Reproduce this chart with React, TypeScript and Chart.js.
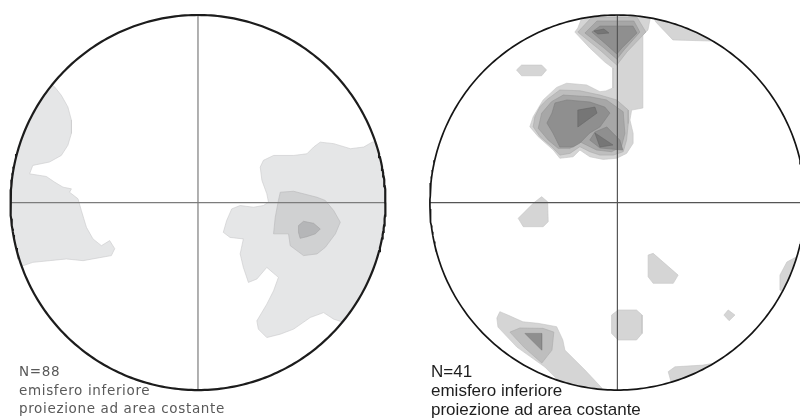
import React, { useEffect, useRef } from "react";
import { Chart, registerables } from "chart.js";

type P = [number, number];

// Coordinates of contour vertices are in "percent of net radius" (u east, v north)
// Net layout: each net is centred at x = NET_CENTERS[i] (chart units), y = 0
const NET_CENTERS = [0, 223.7];
const X_RANGE: P = [-105.6, 321.1];
const Y_RANGE: P = [-114.9, 108];

// ---------- Left net (N=88) ----------
const A_WEST_L1: P[] = [[-80,64],[-76.5,61.7],[-72.9,57.2],[-69.4,51.0],[-67.5,43.9],[-67.5,36.9],[-69.4,30.5],[-72.9,25.1],[-79.2,21.6],[-88.1,19.8],[-89.8,15.3],[-80.9,13.9],[-76.5,10.9],[-72.0,8.2],[-67.5,7.3],[-68.5,5.5],[-64.0,2.0],[-62.2,-4.3],[-59.5,-13.2],[-56.0,-19.4],[-51.5,-23.0],[-47.1,-20.3],[-44.4,-24.6],[-46.2,-28.3],[-52.4,-29.4],[-61.3,-31.0],[-70.2,-30.1],[-79.2,-31.0],[-88.1,-31.9],[-97.9,-35.3],[-110,-40],[-110,64]];
const A_EAST_L1: P[] = [[105,35],[92.9,32.2],[88.4,29.6],[81.3,28.7],[72.4,31.4],[65.2,32.2],[61.7,29.6],[58.1,26.0],[51.0,25.1],[40.3,25.1],[34.9,22.5],[33.2,18.9],[34.1,11.8],[36.7,4.7],[37.6,0.2],[34.9,-1.6],[29.6,-2.5],[22.5,-1.6],[18.0,-3.4],[15.3,-9.6],[13.5,-15.9],[17.1,-18.6],[24.2,-19.4],[22.5,-27.4],[24.2,-34.6],[26.9,-42.6],[31.4,-40.8],[36.7,-34.6],[42.9,-39.9],[40.3,-47.1],[36.7,-54.2],[31.4,-63.1],[32.2,-67.5],[36.7,-72.0],[43.9,-70.2],[51.0,-67.5],[59.9,-61.3],[67.0,-58.7],[72.4,-62.2],[78.6,-64.2],[110,-64],[110,35]];
const A_EAST_L2: P[] = [[43.9,5.5],[51.0,6.0],[63.5,2.8],[67.9,1.1],[72.4,-4.3],[75.9,-10.5],[73.3,-16.7],[67.9,-23.9],[63.5,-27.4],[56.3,-28.3],[49.2,-23.0],[48.3,-16.7],[40.3,-16.7],[41.2,-7.9],[42.9,1.1]];
const A_EAST_L3: P[] = [[53.6,-12.3],[56.3,-10.0],[61.7,-11.1],[65.2,-14.1],[62.6,-16.7],[58.1,-18.2],[54.5,-19.1],[53.6,-15.9]];

// ---------- Right net (N=41) ----------
const B_MAIN_L1: P[] = [[-17.3,102.7],[-21.1,93.1],[-22.7,90.9],[-14.7,82.4],[-6.7,74.9],[-2.4,71.7],[-2.4,61.1],[-6.1,59.5],[-9.3,59.1],[-16.4,62.7],[-27.1,63.6],[-32.4,61.4],[-39.6,54.7],[-44.9,45.8],[-46.7,40.4],[-42.2,35.1],[-34.2,28.0],[-30.7,23.6],[-23.6,24.4],[-20.0,28.0],[-14.7,24.4],[-7.6,23.0],[-0.4,23.6],[4.9,26.2],[8.4,31.6],[8.4,36.9],[6.7,44.0],[7.6,49.3],[13.6,50.4],[13.6,89.3],[16.3,92.0],[18.4,102.7]];
const B_WEDGE_L1: P[] = [[17.3,102.7],[20.5,96.3],[29.6,86.7],[50.4,86.1],[57.3,92.0],[44.0,105.3]];
const B_TOP_L2: P[] = [[-21.1,90.9],[-13.6,98.9],[10.4,98.9],[15.2,90.9],[5.1,80.3],[-0.3,73.3],[-9.3,81.3]];
const B_TOP_L3: P[] = [[-17.3,90.4],[-10.9,96.8],[8.8,96.8],[12.0,90.9],[3.5,81.3],[-0.3,76.5],[-7.7,82.9]];
const B_TOP_L4: P[] = [[-13.6,90.9],[-9.3,94.1],[8.3,94.1],[10.4,90.4],[2.4,82.4],[-0.3,79.2],[-5.6,84.0]];
const B_TOP_L5: P[] = [[-12.5,91.5],[-7.2,92.5],[-4.5,90.4],[-10.4,89.9]];
const B_MID_L2: P[] = [[-37.8,54.7],[-30.7,60.0],[-20.0,59.6],[-9.3,57.3],[-0.4,54.7],[5.8,49.3],[5.8,42.2],[4.9,33.3],[3.1,27.1],[-2.2,25.3],[-9.3,25.3],[-14.7,27.1],[-20.0,29.8],[-25.3,26.2],[-30.7,25.3],[-35.1,29.8],[-41.3,35.1],[-44.9,40.4],[-44.0,45.8],[-41.3,51.1]];
const B_MID_L3: P[] = [[-35.1,53.8],[-28.9,57.3],[-14.7,56.4],[-5.8,54.7],[3.1,48.4],[4.0,36.9],[2.2,29.8],[-3.1,27.1],[-11.1,28.0],[-20.0,32.4],[-25.3,28.9],[-31.6,28.9],[-36.9,33.3],[-42.2,39.6],[-40.4,47.6]];
const B_MID_L4A: P[] = [[-33.3,53.1],[-26.9,54.7],[-14.7,53.6],[-6.7,50.9],[-4.0,47.7],[-9.3,40.3],[-14.7,37.1],[-20.0,31.7],[-23.7,29.6],[-30.7,29.6],[-34.4,37.1],[-37.6,42.4],[-34.9,47.7]];
const B_MID_L4B: P[] = [[-12.0,37.6],[-5.6,40.3],[1.3,33.3],[2.9,28.0],[-9.3,29.1],[-14.7,33.3]];
const B_MID_L5A: P[] = [[-21.1,49.3],[-12.0,50.9],[-10.9,47.7],[-21.1,40.3]];
const B_MID_L5B: P[] = [[-12.0,37.1],[-2.4,30.7],[-9.3,29.6]];
const B_HEX_L1: P[] = [[-53.8,70.7],[-51.1,73.3],[-40.4,73.3],[-37.8,70.7],[-40.4,67.6],[-51.1,67.6]];
const B_WEST_L1: P[] = [[-52.9,-8.4],[-44.9,-0.4],[-40.4,3.1],[-37.2,0.4],[-36.9,-10.2],[-39.6,-12.9],[-50.2,-12.9]];
const B_SE_L1: P[] = [[16.4,-28.0],[19.1,-27.1],[32.4,-38.7],[29.8,-43.1],[19.1,-43.1],[16.4,-39.6]];
const B_OCT_L1: P[] = [[-3.1,-60.0],[0.4,-57.3],[10.2,-57.3],[13.2,-60.0],[13.2,-69.8],[10.2,-73.3],[0.4,-73.3],[-3.1,-69.8]];
const B_DIAMOND_L1: P[] = [[59.1,-57.3],[62.7,-60.0],[59.6,-63.0],[56.8,-60.0]];
const B_SOUTH_L1: P[] = [[27.1,-90.2],[30.7,-87.6],[45.6,-86.7],[54.7,-85.1],[38.7,-105.3],[29.1,-97.3]];
const B_EAST_L1: P[] = [[86.7,-46.7],[86.7,-38.7],[90.4,-31.7],[97.3,-28.0],[97.3,-52.0]];
const B_SW_L1: P[] = [[-62.7,-58.2],[-58.4,-60.0],[-50.4,-63.6],[-42.4,-64.4],[-32.4,-66.2],[-29.1,-73.3],[-28.0,-78.7],[-17.3,-89.3],[-8.3,-98.9],[-6.7,-102.7],[-25.3,-101.1],[-38.7,-87.7],[-53.6,-77.1],[-63.7,-66.4],[-64.3,-61.6]];
const B_SW_L2: P[] = [[-57.3,-69.1],[-52.0,-66.9],[-39.7,-67.1],[-33.9,-69.1],[-34.9,-78.7],[-40.3,-85.6],[-49.9,-77.1]];
const B_SW_L3: P[] = [[-49.3,-69.8],[-40.4,-69.8],[-40.4,-78.7]];

const LEFT_FILLS = ["#e5e6e7", "#d0d1d2", "#b5b6b8"];
const LEFT_EDGES = ["#c9cacb", "#b8b9ba", "#a2a3a5"];
const RIGHT_FILLS = ["#d5d5d5", "#bebebe", "#a7a7a7", "#8f8f8f", "#767676"];
const RIGHT_EDGES = ["#c4c4c4", "#ababab", "#959595", "#7f7f7f", "#666666"];

const LEFT_LABELS = ["N=88", "emisfero inferiore", "proiezione ad area costante"];
const RIGHT_LABELS = ["N=41", "emisfero inferiore", "proiezione ad area costante"];

const netClipPlugin = {
  id: "netClip",
  beforeDatasetDraw(chart: any, args: any) {
    const ds = chart.data.datasets[args.index];
    if (ds.netClip === undefined) return;
    const xs = chart.scales.x;
    const ys = chart.scales.y;
    const c = NET_CENTERS[ds.netClip];
    const cx = xs.getPixelForValue(c);
    const cy = ys.getPixelForValue(0);
    const r = xs.getPixelForValue(c + 100) - cx;
    const ctx = chart.ctx;
    ctx.save();
    ctx.beginPath();
    ctx.arc(cx, cy, r, 0, Math.PI * 2);
    ctx.clip();
  },
  afterDatasetDraw(chart: any, args: any) {
    const ds = chart.data.datasets[args.index];
    if (ds.netClip === undefined) return;
    chart.ctx.restore();
  },
};
Chart.register(netClipPlugin);
Chart.register(...registerables);

function polygon(points: P[], net: number, fill: string, edge: string) {
  const c = NET_CENTERS[net];
  const data = points.map(([u, v]) => ({ x: u + c, y: v }));
  data.push({ ...data[0] });
  return {
    data,
    showLine: true,
    fill: "shape",
    backgroundColor: fill,
    borderColor: edge,
    borderWidth: 0.6,
    pointRadius: 0,
    tension: 0,
    netClip: net,
  };
}

function circle(net: number, color: string, width: number) {
  const c = NET_CENTERS[net];
  const data: { x: number; y: number }[] = [];
  for (let i = 0; i <= 360; i++) {
    const a = (i * Math.PI) / 180;
    data.push({ x: c + 100 * Math.cos(a), y: 100 * Math.sin(a) });
  }
  return { data, showLine: true, fill: false, borderColor: color, borderWidth: width, pointRadius: 0 };
}

function cross(net: number, color: string, width: number) {
  const c = NET_CENTERS[net];
  return [
    { data: [{ x: c - 100, y: 0 }, { x: c + 100, y: 0 }], showLine: true, fill: false, borderColor: color, borderWidth: width, pointRadius: 0 },
    { data: [{ x: c, y: -100 }, { x: c, y: 100 }], showLine: true, fill: false, borderColor: color, borderWidth: width, pointRadius: 0 },
  ];
}

export default function App() {
  const ref = useRef<HTMLCanvasElement | null>(null);
  useEffect(() => {
    if (!ref.current) return;
    const ds: any[] = [
      polygon(A_WEST_L1, 0, LEFT_FILLS[0], LEFT_EDGES[0]),
      polygon(A_EAST_L1, 0, LEFT_FILLS[0], LEFT_EDGES[0]),
      polygon(A_EAST_L2, 0, LEFT_FILLS[1], LEFT_EDGES[1]),
      polygon(A_EAST_L3, 0, LEFT_FILLS[2], LEFT_EDGES[2]),
      ...cross(0, "#7c7c7c", 1.2),
      circle(0, "#1c1c1c", 2.2),

      polygon(B_MAIN_L1, 1, RIGHT_FILLS[0], RIGHT_EDGES[0]),
      polygon(B_WEDGE_L1, 1, RIGHT_FILLS[0], RIGHT_EDGES[0]),
      polygon(B_HEX_L1, 1, RIGHT_FILLS[0], RIGHT_EDGES[0]),
      polygon(B_WEST_L1, 1, RIGHT_FILLS[0], RIGHT_EDGES[0]),
      polygon(B_SE_L1, 1, RIGHT_FILLS[0], RIGHT_EDGES[0]),
      polygon(B_OCT_L1, 1, RIGHT_FILLS[0], RIGHT_EDGES[0]),
      polygon(B_DIAMOND_L1, 1, RIGHT_FILLS[0], RIGHT_EDGES[0]),
      polygon(B_SOUTH_L1, 1, RIGHT_FILLS[0], RIGHT_EDGES[0]),
      polygon(B_EAST_L1, 1, RIGHT_FILLS[0], RIGHT_EDGES[0]),
      polygon(B_SW_L1, 1, RIGHT_FILLS[0], RIGHT_EDGES[0]),
      polygon(B_TOP_L2, 1, RIGHT_FILLS[1], RIGHT_EDGES[1]),
      polygon(B_MID_L2, 1, RIGHT_FILLS[1], RIGHT_EDGES[1]),
      polygon(B_SW_L2, 1, RIGHT_FILLS[1], RIGHT_EDGES[1]),
      polygon(B_TOP_L3, 1, RIGHT_FILLS[2], RIGHT_EDGES[2]),
      polygon(B_MID_L3, 1, RIGHT_FILLS[2], RIGHT_EDGES[2]),
      polygon(B_TOP_L4, 1, RIGHT_FILLS[3], RIGHT_EDGES[3]),
      polygon(B_MID_L4A, 1, RIGHT_FILLS[3], RIGHT_EDGES[3]),
      polygon(B_MID_L4B, 1, RIGHT_FILLS[3], RIGHT_EDGES[3]),
      polygon(B_SW_L3, 1, RIGHT_FILLS[3], RIGHT_EDGES[3]),
      polygon(B_TOP_L5, 1, RIGHT_FILLS[4], RIGHT_EDGES[4]),
      polygon(B_MID_L5A, 1, RIGHT_FILLS[4], RIGHT_EDGES[4]),
      polygon(B_MID_L5B, 1, RIGHT_FILLS[4], RIGHT_EDGES[4]),
      ...cross(1, "#555555", 1.2),
      circle(1, "#151515", 1.7),
    ];
    ds.forEach((d, i) => (d.order = -i));
    const chart = new Chart(ref.current, {
      type: "scatter",
      data: { datasets: ds },
      options: {
        animation: false,
        responsive: false,
        events: [],
        layout: { padding: 0 },
        plugins: { legend: { display: false }, tooltip: { enabled: false } },
        scales: {
          x: { type: "linear", min: X_RANGE[0], max: X_RANGE[1], display: false },
          y: { type: "linear", min: Y_RANGE[0], max: Y_RANGE[1], display: false },
        },
      } as any,
    });
    return () => chart.destroy();
  }, []);

  const leftStyle: React.CSSProperties = {
    position: "absolute",
    left: 19,
    fontFamily: '"DejaVu Sans", sans-serif',
    fontSize: 13.5,
    lineHeight: "13.5px",
    letterSpacing: "0.65px",
    color: "#595959",
    whiteSpace: "nowrap",
  };
  const rightStyle: React.CSSProperties = {
    position: "absolute",
    left: 431,
    fontFamily: '"Liberation Sans", Arial, sans-serif',
    fontSize: 17,
    lineHeight: "17px",
    color: "#1e1e1e",
    whiteSpace: "nowrap",
  };
  const leftTops = [365, 383.5, 402];
  const rightTops = [362.5, 382, 400.5];

  return (
    <div style={{ position: "absolute", left: 0, top: 0, width: 800, height: 418, background: "#ffffff", overflow: "hidden" }}>
      <canvas ref={ref} width={800} height={418} style={{ display: "block" }} />
      {LEFT_LABELS.map((t, i) => (
        <div key={"l" + i} style={{ ...leftStyle, top: leftTops[i] }}>{t}</div>
      ))}
      {RIGHT_LABELS.map((t, i) => (
        <div key={"r" + i} style={{ ...rightStyle, top: rightTops[i] }}>{t}</div>
      ))}
    </div>
  );
}
